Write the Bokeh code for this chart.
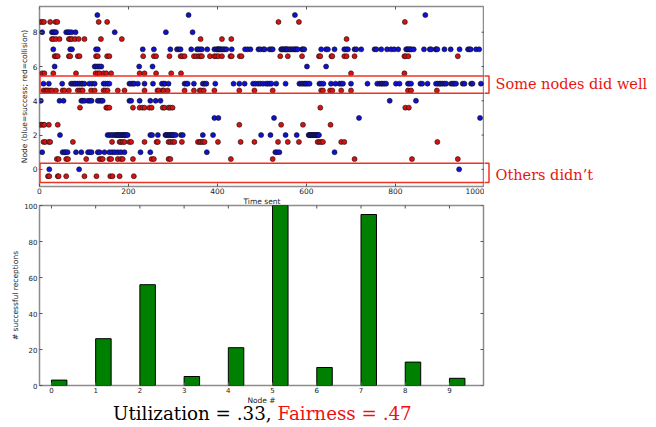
import math
from bokeh.plotting import figure
from bokeh.layouts import column, row
from bokeh.models import Range1d, FixedTicker, BoxAnnotation, Label, Div
from bokeh.embed import file_html
from bokeh.resources import INLINE

# ---------------- data ----------------
nodes = list(range(10))
receptions = [3, 26, 56, 5, 21, 100, 10, 95, 13, 4]
time_ticks = [0, 200, 400, 600, 800, 1000]
node_ticks = [0, 2, 4, 6, 8]
count_ticks = [0, 20, 40, 60, 80, 100]
utilization_text = "Utilization = .33,"
fairness_text = "Fairness = .47"

# successful transmissions (time sent) per node
ok_node0 = [22, 89, 943]
ok_node1 = [6, 52, 56, 59, 63, 82, 94, 109, 113, 117, 131, 135, 146, 157, 163, 169,
            176, 183, 191, 227, 249, 376, 530, 534, 539, 663]
ok_node2 = [46, 153, 157, 161, 165, 169, 172, 174, 176, 178, 180, 183, 185, 187, 189,
            191, 193, 195, 198, 249, 253, 266, 283, 285, 287, 290, 292, 294, 296, 298,
            300, 302, 306, 318, 322, 367, 390, 498, 519, 553, 578, 605, 606, 608, 609,
            611, 612, 614, 616, 618, 619, 621, 623, 625, 626, 628]
ok_node3 = [393, 402, 527, 718, 990]
ok_node4 = [3, 45, 54, 94, 97, 101, 109, 113, 117, 131, 135, 139, 142, 202, 206, 225,
            249, 261, 272, 787, 846]
ok_node5 = [9, 21, 51, 71, 75, 79, 82, 86, 90, 94, 97, 101, 112, 118, 124, 144, 148,
            153, 157, 202, 206, 210, 213, 221, 236, 255, 275, 279, 282, 290, 326, 330,
            333, 347, 367, 371, 375, 395, 436, 449, 461, 480, 485, 491, 496, 502, 509,
            513, 517, 521, 532, 553, 584, 588, 592, 596, 599, 603, 607, 629, 633, 638,
            655, 665, 674, 678, 682, 700, 737, 759, 764, 768, 771, 775, 779, 801, 809,
            828, 831, 835, 856, 860, 872, 891, 895, 899, 902, 906, 910, 914, 925, 929,
            932, 936, 951, 955, 970, 973, 992]
ok_node6 = [34, 124, 127, 131, 135, 139, 224, 254, 601, 644]
ok_node7 = [31, 69, 73, 127, 131, 232, 257, 294, 309, 313, 317, 341, 354, 357, 361,
            365, 377, 393, 397, 400, 401, 403, 405, 407, 410, 413, 416, 420, 432, 462,
            468, 474, 492, 496, 503, 506, 517, 521, 524, 543, 545, 547, 550, 552, 554,
            556, 558, 562, 565, 569, 572, 575, 577, 580, 590, 592, 595, 633, 644, 648,
            663, 685, 689, 693, 708, 712, 723, 753, 757, 768, 781, 790, 797, 806, 824,
            826, 828, 831, 833, 836, 841, 864, 877, 880, 890, 892, 894, 910, 924, 944,
            963, 966, 969, 981, 988]
ok_node8 = [6, 28, 31, 34, 37, 60, 64, 67, 72, 81, 169, 284, 344]
ok_node9 = [130, 335, 574, 867]

# collided transmissions (time sent) per node
col_node0 = [19, 22, 41, 43, 60, 101, 128, 159, 164, 180, 212]
col_node1 = [39, 43, 60, 64, 105, 135, 139, 142, 157, 161, 176, 183, 187, 210, 252,
             257, 290, 294, 430, 524, 708, 837, 940]
col_node2 = [9, 13, 21, 24, 75, 163, 180, 183, 187, 191, 202, 206, 236, 263, 266, 290,
             294, 299, 303, 320, 356, 360, 363, 367, 371, 401, 452, 483, 536, 558, 583,
             625, 629, 633, 637, 678, 685, 894]
col_node3 = [1, 4, 8, 11, 21, 41, 449, 543, 592, 654]
col_node4 = [91, 150, 153, 157, 210, 225, 231, 236, 247, 252, 277, 281, 290, 294, 299,
             631, 822, 830]
col_node5 = [9, 13, 16, 19, 24, 28, 37, 52, 56, 66, 86, 90, 94, 97, 116, 124, 144, 148,
             153, 176, 191, 236, 265, 268, 277, 279, 288, 326, 347, 360, 363, 369, 393,
             449, 483, 524, 633, 637, 653, 658, 678, 700, 828, 835, 893]
col_node6 = [6, 11, 31, 82, 126, 131, 135, 144, 150, 161, 225, 236, 262, 296, 318, 700,
             820]
col_node7 = [34, 37, 41, 66, 69, 86, 90, 127, 131, 152, 157, 233, 257, 262, 292, 317,
             321, 326, 347, 352, 358, 362, 365, 383, 393, 397, 402, 410, 429, 432, 450,
             454, 541, 558, 590, 628, 631, 656, 658, 685, 690, 708, 820, 823, 829, 940]
col_node8 = [28, 31, 37, 45, 66, 69, 73, 80, 88, 101, 138, 185, 362, 410, 431, 690]
col_node9 = [2, 6, 10, 24, 36, 40, 133, 152, 537, 583, 821]

success = [ok_node0, ok_node1, ok_node2, ok_node3, ok_node4,
           ok_node5, ok_node6, ok_node7, ok_node8, ok_node9]
collision = [col_node0, col_node1, col_node2, col_node3, col_node4,
             col_node5, col_node6, col_node7, col_node8, col_node9]

COLLISION_OFFSET = -0.4
sx, sy, cx, cy = [], [], [], []
for n, ts in zip(nodes, success):
    sx += ts
    sy += [n] * len(ts)
for n, ts in zip(nodes, collision):
    cx += ts
    cy += [n + COLLISION_OFFSET] * len(ts)

SANS = "DejaVu Sans"
SERIF = "DejaVu Serif"
FRAME = "#8c8c8c"
TXT = "#222222"
TICKC = "#555555"
BOXC = "#ee3322"
ANNC = "#e8150f"


def bare(p):
    p.axis.visible = False
    p.xgrid.visible = False
    p.ygrid.visible = False
    p.outline_line_color = None
    p.background_fill_alpha = 0
    p.border_fill_alpha = 0


def style(p, xt, yt, fs, xlabel, ylabel):
    p.xgrid.visible = False
    p.ygrid.visible = False
    p.outline_line_color = FRAME
    p.outline_line_width = 1.5
    p.xaxis.ticker = FixedTicker(ticks=xt)
    p.yaxis.ticker = FixedTicker(ticks=yt)
    p.xaxis.axis_label = xlabel
    p.yaxis.axis_label = ylabel
    for ax in p.xaxis + p.yaxis:
        ax.axis_line_color = None
        ax.major_tick_in = 3
        ax.major_tick_out = 0
        ax.major_tick_line_color = TICKC
        ax.minor_tick_line_color = None
        ax.major_label_text_font = SANS
        ax.major_label_text_font_size = fs
        ax.major_label_text_color = TXT
        ax.major_label_standoff = 2
        ax.axis_label_text_font = SANS
        ax.axis_label_text_font_size = "7.5px"
        ax.axis_label_text_font_style = "normal"
        ax.axis_label_text_color = TXT
        ax.axis_label_standoff = 1
    for ax in p.xaxis:
        ax.major_label_standoff = 1
        ax.axis_label_standoff = 0
    # matplotlib-style inward ticks on the top and right edges
    xr, yr = p.x_range, p.y_range
    p.scatter(x=xt, y=[yr.end] * len(xt), marker="dash", angle=math.pi / 2,
              size=6, line_color=TICKC, line_width=1)
    p.scatter(x=[xr.end] * len(yt), y=yt, marker="dash",
              size=6, line_color=TICKC, line_width=1)


# ---------------- top: scatter ----------------
node_range = (-1, 9.5)
p1 = figure(width=484, height=210,
            x_range=Range1d(0, 1000), y_range=Range1d(*node_range),
            output_backend="svg", toolbar_location=None,
            min_border_left=39, min_border_right=0,
            min_border_top=6, min_border_bottom=24)
style(p1, time_ticks, node_ticks, "7.5px", "Time sent",
      "Node (blue=success; red=collision)")

p1.scatter(cx, cy, size=5, fill_color="#d81010", line_color="#111111", line_width=0.6)
p1.scatter(sx, sy, size=5, fill_color="#1010d0", line_color="#111111", line_width=0.6)

boxes = [(4.44, 5.44), (-0.76, 0.35)]
for b, t in boxes:
    p1.add_layout(BoxAnnotation(left=1, right=1020, bottom=b, top=t,
                                fill_alpha=0, line_color=BOXC, line_alpha=1,
                                line_width=1.5))

# annotation panel to the right of the scatter
pt = figure(width=172, height=210, x_range=Range1d(0, 172),
            y_range=Range1d(*node_range), output_backend="svg",
            toolbar_location=None, min_border_left=0, min_border_right=0,
            min_border_top=6, min_border_bottom=24)
bare(pt)
for b, t in boxes:
    pt.add_layout(BoxAnnotation(left=-10, right=4.5, bottom=b, top=t,
                                fill_alpha=0, line_color=BOXC, line_alpha=1,
                                line_width=1.5))
pt.add_layout(Label(x=11, y=5.0, text="Some nodes did well", text_font=SERIF,
                    text_font_size="14.5px", text_color=ANNC,
                    text_baseline="middle"))
pt.add_layout(Label(x=11, y=-0.3, text="Others didn\u2019t", text_font=SERIF,
                    text_font_size="14.5px", text_color=ANNC,
                    text_baseline="middle"))

# ---------------- bottom: bars ----------------
p2 = figure(width=656, height=208,
            x_range=Range1d(-0.27, 9.77), y_range=Range1d(0, 100),
            output_backend="svg", toolbar_location=None,
            min_border_left=39, min_border_right=173,
            min_border_top=6, min_border_bottom=22,
            styles={"margin-top": "-11px"})
p2.border_fill_alpha = 0
p2.background_fill_alpha = 0
style(p2, nodes, count_ticks, "7px", "Node #", "# successful receptions")

BAR_W = 0.35
p2.quad(left=nodes, right=[n + BAR_W for n in nodes], bottom=0, top=receptions,
        fill_color="#008000", line_color="black", line_width=1)

# summary line under the bars
summary_html = (
    '<div style="padding-left:108px;white-space:nowrap;font-family:\'DejaVu Serif\';'
    'font-size:18.3px;line-height:22px;color:#000000;">'
    f'{utilization_text} <span style="color:#ee1111;">{fairness_text}</span></div>'
)
summary = Div(text=summary_html, width=656, height=24,
              styles={"margin-top": "-4px"})

layout = column(row(p1, pt, spacing=0), p2, summary, spacing=0)
open("out.html", "w").write(file_html(layout, INLINE))
